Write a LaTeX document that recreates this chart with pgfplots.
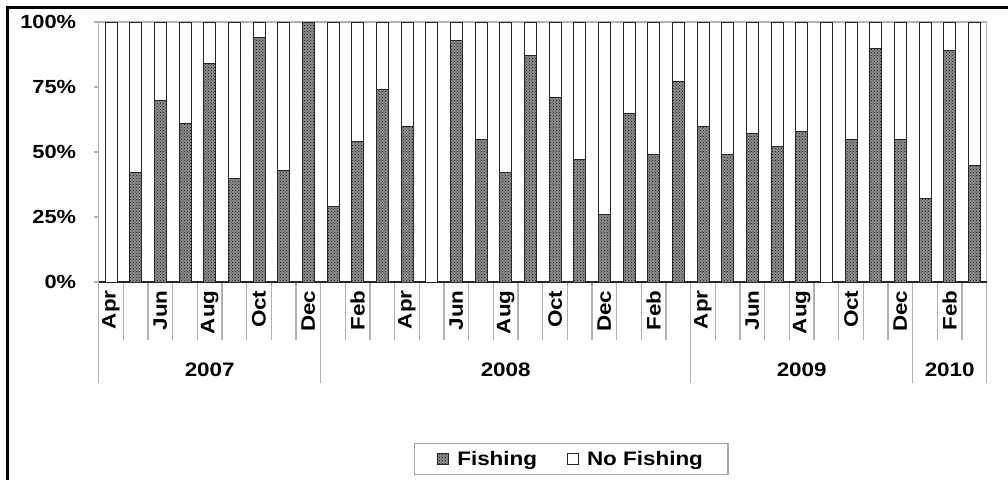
\documentclass[border=0pt]{standalone}
\usepackage{fontspec}
\setmainfont{Liberation Sans}[FakeStretch=1.15]
\usepackage{pgfplots}
\pgfplotsset{compat=1.18}
\usetikzlibrary{patterns}
\newcommand\lbl{\bfseries\fontsize{19.5}{22}\selectfont}
\newcommand\ylbl{\bfseries\fontsize{19}{22}\selectfont}
\begin{document}
\begin{tikzpicture}
\useasboundingbox (0pt,0pt) rectangle (1008pt,480pt);
\fill[white] (0pt,0pt) rectangle (1008pt,480pt);
\draw[line width=3pt] (7pt,0pt) -- (7pt,472pt) -- (1008pt,472pt);
\begin{axis}[
  at={(98.7pt,198pt)}, anchor=south west,
  scale only axis, width=888pt, height=260pt,
  clip=false,
  ybar stacked, bar width=12pt,
  xmin=0.5, xmax=36.5, ymin=0, ymax=100,
  axis line style={gray!60, line width=1.2pt},
  xtick={1,3,...,35},
  xticklabels={Apr,Jun,Aug,Oct,Dec,Feb,Apr,Jun,Aug,Oct,Dec,Feb,Apr,Jun,Aug,Oct,Dec,Feb},
  minor xtick={1.5,2.5,...,35.5},
  xtick pos=bottom, ytick pos=left,
  tick align=outside,
  major tick length=5pt, minor tick length=58pt,
  major x tick style={draw=none},
  minor x tick style={gray!60, line width=1.2pt},
  major y tick style={gray!60, line width=1.2pt},
  ytick={0,25,50,75,100},
  yticklabels={0\%,25\%,50\%,75\%,100\%},
  xticklabel style={rotate=90, anchor=east, font=\lbl},
  yticklabel style={font=\ylbl, xshift=-14pt},
  legend columns=2,
  legend style={at={(0.532,-0.681)}, anchor=center, draw=gray!70, line width=1.2pt,
    font=\lbl, inner xsep=23pt, inner ysep=6pt,
    /tikz/every even column/.append style={column sep=28pt}},
  legend image code/.code={\draw[#1] (0pt,-5.5pt) rectangle (11pt,5.5pt); \path (17pt,0pt);},
]
\addplot[fill=black!45, draw=black!85, line width=1pt,
  postaction={pattern=crosshatch dots, pattern color=black!90}] coordinates {
(1,0) (2,42) (3,70) (4,61) (5,84) (6,40) (7,94) (8,43) (9,100)
(10,29) (11,54) (12,74) (13,60) (14,0) (15,93) (16,55) (17,42) (18,87)
(19,71) (20,47) (21,26) (22,65) (23,49) (24,77) (25,60) (26,49) (27,57)
(28,52) (29,58) (30,0) (31,55) (32,90) (33,55) (34,32) (35,89) (36,45)};
\addplot[fill=white, draw=black!85, line width=1pt] coordinates {
(1,100) (2,58) (3,30) (4,39) (5,16) (6,60) (7,6) (8,57) (9,0)
(10,71) (11,46) (12,26) (13,40) (14,100) (15,7) (16,45) (17,58) (18,13)
(19,29) (20,53) (21,74) (22,35) (23,51) (24,23) (25,40) (26,51) (27,43)
(28,48) (29,42) (30,100) (31,45) (32,10) (33,45) (34,68) (35,11) (36,55)};
\legend{Fishing,No Fishing}
\draw[black!85, line width=1.2pt] (rel axis cs:0,0) -- (rel axis cs:1,0);
\draw[gray!60, line width=1.2pt] (axis cs:0.5,0) -- ++(0pt,-101pt);
\draw[gray!60, line width=1.2pt] (axis cs:9.5,0) -- ++(0pt,-101pt);
\draw[gray!60, line width=1.2pt] (axis cs:24.5,0) -- ++(0pt,-101pt);
\draw[gray!60, line width=1.2pt] (axis cs:33.5,0) -- ++(0pt,-101pt);
\draw[gray!60, line width=1.2pt] (axis cs:36.5,0) -- ++(0pt,-101pt);
\node[font=\lbl] at (axis cs:5,0) [yshift=-88pt] {2007};
\node[font=\lbl] at (axis cs:17,0) [yshift=-88pt] {2008};
\node[font=\lbl] at (axis cs:29,0) [yshift=-88pt] {2009};
\node[font=\lbl] at (axis cs:35,0) [yshift=-88pt] {2010};
\end{axis}
\end{tikzpicture}
\end{document}
